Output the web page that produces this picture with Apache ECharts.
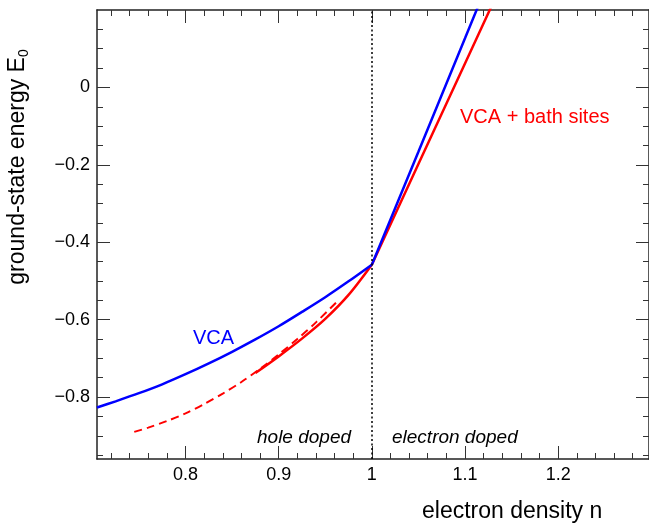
<!DOCTYPE html>
<html>
<head>
<meta charset="utf-8">
<script src="https://cdn.jsdelivr.net/npm/echarts@6/dist/echarts.min.js"></script>
<style>html,body{margin:0;padding:0;background:#fff}#c{width:649px;height:523px}</style>
</head>
<body>
<div id="c"></div>
<script>
// ---- data ----
const blueHoleN = [0.705, 0.725, 0.75, 0.775, 0.8, 0.825, 0.85, 0.875, 0.9, 0.925, 0.95, 0.975, 1.0];
const blueHoleE = [-0.827, -0.811, -0.790, -0.767, -0.741, -0.713, -0.683, -0.651, -0.617, -0.580, -0.542, -0.501, -0.458];
const blueElecN = [1.0, 1.05, 1.1, 1.13];
const blueElecE = [-0.458, -0.166, 0.127, 0.303];
const redHoleN = [0.875, 0.9, 0.925, 0.95, 0.975, 1.0];
const redHoleE = [-0.738, -0.695, -0.649, -0.598, -0.536, -0.458];
const redElecN = [1.0, 1.05, 1.1, 1.14];
const redElecE = [-0.458, -0.198, 0.062, 0.27];
const redDashN = [0.745, 0.76, 0.78, 0.8, 0.82, 0.84, 0.86, 0.88, 0.9, 0.92, 0.94, 0.965];
const redDashE = [-0.890, -0.879, -0.862, -0.842, -0.818, -0.791, -0.761, -0.727, -0.690, -0.650, -0.607, -0.548];
const dividerN = [1.0];

const xMajorTicks = [0.8, 0.9, 1.0, 1.1, 1.2];
const xMinorTicks = [0.72, 0.74, 0.76, 0.78, 0.82, 0.84, 0.86, 0.88, 0.92, 0.94, 0.96, 0.98,
                     1.02, 1.04, 1.06, 1.08, 1.12, 1.14, 1.16, 1.18, 1.22, 1.24, 1.26, 1.28];
const yMajorTicks = [-0.8, -0.6, -0.4, -0.2, 0];
const yMinorTicks = [-0.95, -0.9, -0.85, -0.75, -0.7, -0.65, -0.55, -0.5, -0.45, -0.35, -0.3, -0.25,
                     -0.15, -0.1, -0.05, 0.05, 0.1, 0.15];

const xRange = [0.705, 1.2975];
const yRange = [-0.96, 0.2];

const zip = (a, b) => a.map((v, i) => [v, b[i]]);

const FONT = 'Liberation Sans, Arial, Helvetica, sans-serif';
const AX = '#222';

function xAx(pos, major, showLine) {
  return {
    type: 'value', position: pos, min: xRange[0], max: xRange[1],
    axisLine: { show: showLine, onZero: false, lineStyle: { color: AX, width: 1.5 } },
    axisTick: { show: true, inside: true, length: major ? 13 : 6,
      customValues: major ? xMajorTicks : xMinorTicks, lineStyle: { color: '#333', width: 1 } },
    axisLabel: { show: major && pos === 'bottom', customValues: xMajorTicks, margin: 7,
      color: '#000', fontSize: 18, fontFamily: FONT, formatter: v => String(+v.toFixed(2)) },
    splitLine: { show: false }
  };
}
function yAx(pos, major, showLine) {
  return {
    type: 'value', position: pos, min: yRange[0], max: yRange[1],
    axisLine: { show: showLine, onZero: false, lineStyle: { color: AX, width: 1.5 } },
    axisTick: { show: true, inside: true, length: major ? 13 : 6,
      customValues: major ? yMajorTicks : yMinorTicks, lineStyle: { color: '#333', width: 1 } },
    axisLabel: { show: major && pos === 'left', customValues: yMajorTicks, margin: 7,
      color: '#000', fontSize: 18, fontFamily: FONT,
      formatter: v => String(+v.toFixed(2)).replace('-', '\u2212') },
    splitLine: { show: false }
  };
}

const chart = echarts.init(document.getElementById('c'), null, { renderer: 'canvas' });
const lineBase = { type: 'line', showSymbol: false, symbol: 'none', clip: true, xAxisIndex: 0, yAxisIndex: 0,
  emphasis: { disabled: true }, silent: true, animation: false };

chart.setOption({
  animation: false,
  backgroundColor: '#fff',
  grid: { left: 97, top: 10, width: 553, height: 449, containLabel: false },
  xAxis: [xAx('bottom', true, true), xAx('bottom', false, false), xAx('top', true, true), xAx('top', false, false)],
  yAxis: [yAx('left', true, true), yAx('left', false, false), yAx('right', true, true), yAx('right', false, false)],
  series: [
    Object.assign({}, lineBase, {
      name: 'divider', data: [],
      markLine: { silent: true, symbol: ['none', 'none'], label: { show: false },
        lineStyle: { type: [2, 2.5], color: '#000', width: 1.5 },
        emphasis: { disabled: true },
        data: dividerN.map(v => ({ xAxis: v })) }
    }),
    Object.assign({}, lineBase, { name: 'VCA+bath dashed', data: zip(redDashN, redDashE), smooth: 0.3,
      lineStyle: { color: '#ff0000', width: 2, type: [8, 5] } }),
    Object.assign({}, lineBase, { name: 'VCA+bath hole', data: zip(redHoleN, redHoleE), smooth: 0.3,
      lineStyle: { color: '#ff0000', width: 2.5 } }),
    Object.assign({}, lineBase, { name: 'VCA+bath elec', data: zip(redElecN, redElecE),
      lineStyle: { color: '#ff0000', width: 2.5 } }),
    Object.assign({}, lineBase, { name: 'VCA hole', data: zip(blueHoleN, blueHoleE), smooth: 0.3,
      lineStyle: { color: '#0000ff', width: 2.5 } }),
    Object.assign({}, lineBase, { name: 'VCA elec', data: zip(blueElecN, blueElecE),
      lineStyle: { color: '#0000ff', width: 2.5 } })
  ],
  graphic: [
    { type: 'text', x: 193, y: 338, silent: true,
      style: { text: 'VCA', fill: '#0000ff', font: '20px ' + FONT, textVerticalAlign: 'middle' } },
    { type: 'text', x: 460, y: 117, silent: true,
      style: { text: 'VCA + bath sites', fill: '#ff0000', font: '20px ' + FONT, textVerticalAlign: 'middle' } },
    { type: 'text', x: 257, y: 438, silent: true,
      style: { text: 'hole doped', fill: '#000', font: 'italic 19px ' + FONT, textVerticalAlign: 'middle' } },
    { type: 'text', x: 392, y: 438, silent: true,
      style: { text: 'electron doped', fill: '#000', font: 'italic 19px ' + FONT, textVerticalAlign: 'middle' } },
    { type: 'text', x: 422, y: 512, silent: true,
      style: { text: 'electron density n', fill: '#000', font: '23px ' + FONT, textVerticalAlign: 'middle' } },
    { type: 'text', x: 18, y: 167, rotation: Math.PI / 2, silent: true,
      style: { text: '{a|ground-state energy E}{s|0}', fill: '#000', align: 'center', verticalAlign: 'middle',
        rich: { a: { fontSize: 23, fontFamily: FONT, fill: '#000', lineHeight: 26 },
                s: { fontSize: 14, fontFamily: FONT, fill: '#000', verticalAlign: 'bottom', lineHeight: 26 } } } }
  ]
});
</script>
</body>
</html>
